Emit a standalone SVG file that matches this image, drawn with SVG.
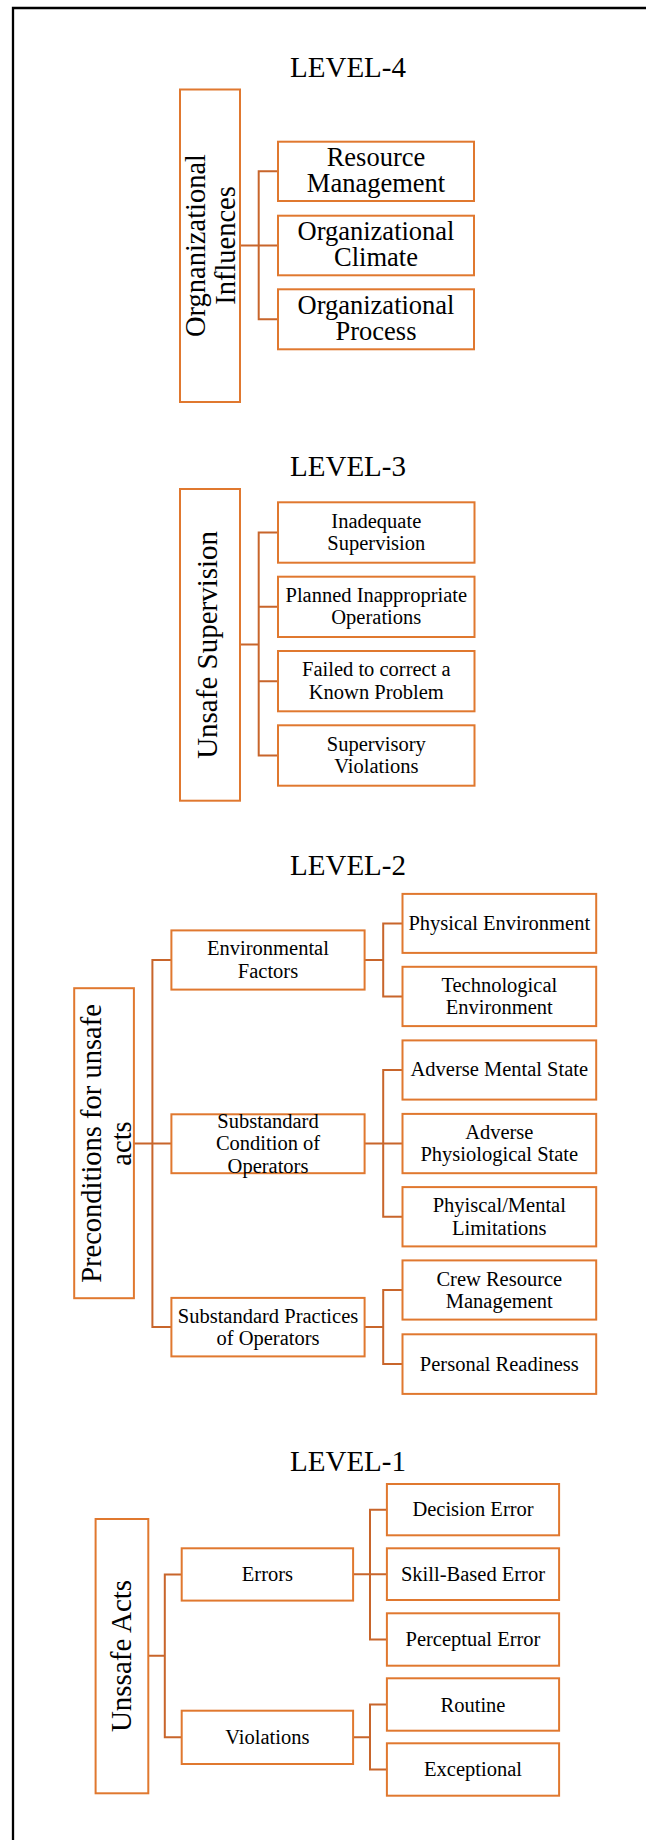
<svg xmlns="http://www.w3.org/2000/svg" width="646" height="1840" viewBox="0 0 646 1840">
<style>
.box{fill:#fff;stroke:#E0782F;stroke-width:2}
.conn{fill:none;stroke:#C8652B;stroke-width:2}
.t{font-family:"Liberation Serif","Times New Roman",serif;fill:#000;text-anchor:middle}
.lvl{font-size:29px}
.s{font-size:20.5px}
.m{font-size:26.5px}
.v{font-size:28.5px}
</style>
<rect width="646" height="1840" fill="#fff"/>
<path d="M13,1840 V8 H646" fill="none" stroke="#000" stroke-width="2.3"/>

<text class="t lvl" x="348" y="77.3">LEVEL-4</text>
<text class="t lvl" x="348" y="475.7">LEVEL-3</text>
<text class="t lvl" x="348" y="874.6">LEVEL-2</text>
<text class="t lvl" x="348" y="1471">LEVEL-1</text>

<g id="connectors">
<path class="conn" d="M240,245.6 H278 M278,171.3 H258.7 V319.3 H278"/>
<path class="conn" d="M240,644.5 H258.7 M278,532.5 H258.7 V755.5 H278 M258.7,606.8 H278 M258.7,681.2 H278"/>
<path class="conn" d="M133.9,1143.6 H171.4 M171.4,960 H152.4 V1327 H171.4"/>
<path class="conn" d="M364.6,960 H383.2 M402.5,923.4 H383.2 V996.4 H402.5"/>
<path class="conn" d="M364.6,1143.6 H402.5 M402.5,1070 H383.2 V1216.8 H402.5"/>
<path class="conn" d="M364.6,1327 H383.2 M402.5,1290 H383.2 V1364.1 H402.5"/>
<path class="conn" d="M148.3,1655.7 H164.8 M181.7,1574.4 H164.8 V1737.3 H181.7"/>
<path class="conn" d="M353.1,1574.3 H386.9 M386.9,1509.7 H370 V1639.5 H386.9"/>
<path class="conn" d="M353.1,1737.3 H370 M386.9,1704.5 H370 V1769.5 H386.9"/>
</g>

<!-- LEVEL 4 -->
<g id="n_org_influences">
<rect class="box" x="180" y="89.5" width="60" height="312.5"/>
<text class="t v" transform="translate(205,245.5) rotate(-90)">Orgnanizational</text>
<text class="t v" transform="translate(235,245.5) rotate(-90)">Influences</text>
</g>
<g id="n_resource_mgmt">
<rect class="box" x="278" y="141.7" width="196" height="59.3"/>
<text class="t m" x="376" y="165.7">Resource</text>
<text class="t m" x="376" y="192.2">Management</text>
</g>
<g id="n_org_climate">
<rect class="box" x="278" y="215.7" width="196" height="59.6"/>
<text class="t m" x="376" y="239.9">Organizational</text>
<text class="t m" x="376" y="266.4">Climate</text>
</g>
<g id="n_org_process">
<rect class="box" x="278" y="289.3" width="196" height="60"/>
<text class="t m" x="376" y="313.7">Organizational</text>
<text class="t m" x="376" y="340.2">Process</text>
</g>

<!-- LEVEL 3 -->
<g id="n_unsafe_supervision">
<rect class="box" x="180" y="489" width="60" height="311.7"/>
<text class="t" style="font-size:29px" transform="translate(217,644.9) rotate(-90)">Unsafe Supervision</text>
</g>
<g id="n_inadequate">
<rect class="box" x="278" y="502.3" width="196.5" height="60.4"/>
<text class="t s" x="376.3" y="527.5">Inadequate</text>
<text class="t s" x="376.3" y="550">Supervision</text>
</g>
<g id="n_planned">
<rect class="box" x="278" y="576.7" width="196.5" height="60.3"/>
<text class="t s" x="376.3" y="601.8">Planned Inappropriate</text>
<text class="t s" x="376.3" y="624.3">Operations</text>
</g>
<g id="n_failed">
<rect class="box" x="278" y="651" width="196.5" height="60.3"/>
<text class="t s" x="376.3" y="676.2">Failed to correct a</text>
<text class="t s" x="376.3" y="698.7">Known Problem</text>
</g>
<g id="n_sup_violations">
<rect class="box" x="278" y="725.3" width="196.5" height="60.4"/>
<text class="t s" x="376.3" y="750.5">Supervisory</text>
<text class="t s" x="376.3" y="773">Violations</text>
</g>

<!-- LEVEL 2 -->
<g id="n_preconditions">
<rect class="box" x="74.2" y="988.2" width="59.7" height="310"/>
<text class="t v" transform="translate(101,1143.5) rotate(-90)">Preconditions for unsafe</text>
<text class="t v" transform="translate(131,1143.5) rotate(-90)">acts</text>
</g>
<g id="n_env_factors">
<rect class="box" x="171.4" y="930.4" width="193.2" height="59.2"/>
<text class="t s" x="268" y="955">Environmental</text>
<text class="t s" x="268" y="977.5">Factors</text>
</g>
<g id="n_sub_condition">
<rect class="box" x="171.4" y="1114.3" width="193.2" height="58.9"/>
<text class="t s" x="268" y="1127.5">Substandard</text>
<text class="t s" x="268" y="1150">Condition of</text>
<text class="t s" x="268" y="1172.5">Operators</text>
</g>
<g id="n_sub_practices">
<rect class="box" x="171.4" y="1297.9" width="193.2" height="58.5"/>
<text class="t s" x="268" y="1322.5">Substandard Practices</text>
<text class="t s" x="268" y="1345">of Operators</text>
</g>
<g id="n_physical_env">
<rect class="box" x="402.5" y="893.9" width="193.7" height="59"/>
<text class="t s" x="499.3" y="929.8">Physical Environment</text>
</g>
<g id="n_tech_env">
<rect class="box" x="402.5" y="966.8" width="193.7" height="59.3"/>
<text class="t s" x="499.3" y="991.8">Technological</text>
<text class="t s" x="499.3" y="1014.3">Environment</text>
</g>
<g id="n_adverse_mental">
<rect class="box" x="402.5" y="1040.4" width="193.7" height="59.2"/>
<text class="t s" x="499.3" y="1076.4">Adverse Mental State</text>
</g>
<g id="n_adverse_phys">
<rect class="box" x="402.5" y="1113.9" width="193.7" height="59.3"/>
<text class="t s" x="499.3" y="1138.5">Adverse</text>
<text class="t s" x="499.3" y="1161">Physiological State</text>
</g>
<g id="n_phys_mental_lim">
<rect class="box" x="402.5" y="1187.1" width="193.7" height="59.3"/>
<text class="t s" x="499.3" y="1212.3">Phyiscal/Mental</text>
<text class="t s" x="499.3" y="1234.8">Limitations</text>
</g>
<g id="n_crew_resource">
<rect class="box" x="402.5" y="1260.4" width="193.7" height="59.2"/>
<text class="t s" x="499.3" y="1285.6">Crew Resource</text>
<text class="t s" x="499.3" y="1308">Management</text>
</g>
<g id="n_personal_readiness">
<rect class="box" x="402.5" y="1334.3" width="193.7" height="59.6"/>
<text class="t s" x="499.3" y="1371.2">Personal Readiness</text>
</g>

<!-- LEVEL 1 -->
<g id="n_unsafe_acts">
<rect class="box" x="95.6" y="1519" width="52.7" height="274.3"/>
<text class="t" style="font-size:29px" transform="translate(131,1656) rotate(-90)">Unssafe Acts</text>
</g>
<g id="n_errors">
<rect class="box" x="181.7" y="1548.3" width="171.4" height="52.3"/>
<text class="t s" x="267.4" y="1580.7">Errors</text>
</g>
<g id="n_violations">
<rect class="box" x="181.7" y="1710.7" width="171.4" height="53.3"/>
<text class="t s" x="267.4" y="1744">Violations</text>
</g>
<g id="n_decision">
<rect class="box" x="386.9" y="1484" width="172.2" height="51.3"/>
<text class="t s" x="473" y="1515.7">Decision Error</text>
</g>
<g id="n_skill">
<rect class="box" x="386.9" y="1548.3" width="172.2" height="51.7"/>
<text class="t s" x="473" y="1580.7">Skill-Based Error</text>
</g>
<g id="n_perceptual">
<rect class="box" x="386.9" y="1613.3" width="172.2" height="52.4"/>
<text class="t s" x="473" y="1645.5">Perceptual Error</text>
</g>
<g id="n_routine">
<rect class="box" x="386.9" y="1678.3" width="172.2" height="52.4"/>
<text class="t s" x="473" y="1711.5">Routine</text>
</g>
<g id="n_exceptional">
<rect class="box" x="386.9" y="1743.3" width="172.2" height="52.4"/>
<text class="t s" x="473" y="1776.3">Exceptional</text>
</g>
</svg>
